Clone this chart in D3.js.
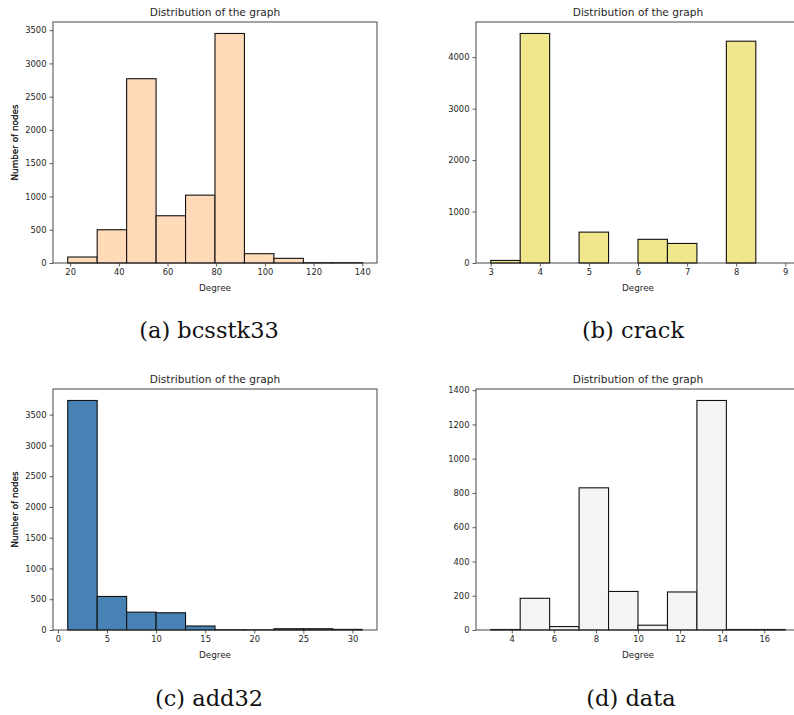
<!DOCTYPE html>
<html><head><meta charset="utf-8">
<script src="https://cdn.jsdelivr.net/npm/d3@7"></script>
<style>
html,body{margin:0;padding:0;background:#fff;}
svg{display:block;}
text{font-family:"DejaVu Sans",sans-serif;fill:#262626;}
.cap{font-family:"DejaVu Serif","Liberation Serif",serif;fill:#111;}
</style></head>
<body>
<svg id="chart" width="794" height="715"></svg>
<script>
// ---- data ----
const titles = ["Distribution of the graph","Distribution of the graph","Distribution of the graph","Distribution of the graph"];
const captions = ["(a) bcsstk33","(b) crack","(c) add32","(d) data"];
const colors = ["#FFDAB9","#F0E68C","#4682B4","#F4F4F4"];

const edgesA = [19,31.1,43.2,55.3,67.4,79.5,91.6,103.7,115.8,127.9,140];
const countsA = [90,500,2770,710,1020,3450,140,70,5,5];
const ticksXA = [20,40,60,80,100,120,140];
const ticksYA = [0,500,1000,1500,2000,2500,3000,3500];

const edgesB = [3,3.6,4.2,4.8,5.4,6.0,6.6,7.2,7.8,8.4,9];
const countsB = [50,4460,0,600,0,460,380,0,4310,0];
const ticksXB = [3,4,5,6,7,8,9];
const ticksYB = [0,1000,2000,3000,4000];

const edgesC = [1,4,7,10,13,16,19,22,25,28,31];
const countsC = [3730,545,290,280,65,5,3,20,20,10];
const ticksXC = [0,5,10,15,20,25,30];
const ticksYC = [0,500,1000,1500,2000,2500,3000,3500];

const edgesD = [3,4.4,5.8,7.2,8.6,10,11.4,12.8,14.2,15.6,17];
const countsD = [3,185,20,830,225,28,222,1340,3,3];
const ticksXD = [4,6,8,10,12,14,16];
const ticksYD = [0,200,400,600,800,1000,1200,1400];

const panels = [
  {edges:edgesA,counts:countsA,tx:ticksXA,ty:ticksYA,x0:53,y0:22},
  {edges:edgesB,counts:countsB,tx:ticksXB,ty:ticksYB,x0:476,y0:22},
  {edges:edgesC,counts:countsC,tx:ticksXC,ty:ticksYC,x0:53,y0:389},
  {edges:edgesD,counts:countsD,tx:ticksXD,ty:ticksYD,x0:476,y0:389}
];
const capPos = [[209,338],[633,338],[209,706],[631,706]];

const svg = d3.select("#chart");
const W = 324, H = 241;

panels.forEach((p,i)=>{
  const g = svg.append("g").attr("transform",`translate(${p.x0},${p.y0})`);
  const lo = p.edges[0], hi = p.edges[p.edges.length-1];
  const pad = (hi-lo)*0.05;
  const x = d3.scaleLinear().domain([lo-pad,hi+pad]).range([0,W]);
  const ymax = d3.max(p.counts)*1.05;
  const y = d3.scaleLinear().domain([0,ymax]).range([H,0]);
  const bins = p.counts.map((c,k)=>({x0:p.edges[k],x1:p.edges[k+1],c}));
  g.selectAll("rect.bar").data(bins).enter().append("rect")
    .attr("class","bar")
    .attr("x",d=>x(d.x0)).attr("width",d=>x(d.x1)-x(d.x0))
    .attr("y",d=>y(d.c)).attr("height",d=>H-y(d.c))
    .attr("fill",colors[i]).attr("stroke","#111").attr("stroke-width",1.1);
  // axes
  const xa = g.append("g").attr("transform",`translate(0,${H})`)
    .call(d3.axisBottom(x).tickValues(p.tx).tickSize(3.5).tickPadding(3).tickFormat(d3.format("d")));
  const ya = g.append("g")
    .call(d3.axisLeft(y).tickValues(p.ty).tickSize(3.5).tickPadding(3).tickFormat(d3.format("d")));
  [xa,ya].forEach(a=>{
    a.select(".domain").remove();
    a.selectAll(".tick line").attr("stroke","#333").attr("stroke-width",0.8);
    a.selectAll(".tick text").style("font-family","DejaVu Sans").style("font-size","8.4px").attr("fill","#262626");
  });
  // frame
  g.append("rect").attr("x",0).attr("y",0).attr("width",W).attr("height",H)
    .attr("fill","none").attr("stroke","#333").attr("stroke-width",0.9);
  g.append("text").attr("x",W/2).attr("y",-6.5).attr("text-anchor","middle")
    .style("font-size","10.6px").text(titles[i]);
  g.append("text").attr("x",W/2).attr("y",H+27.5).attr("text-anchor","middle")
    .style("font-size","8.8px").text("Degree");
  g.append("text").attr("transform",`translate(${-p.x0+18},${H/2}) rotate(-90)`)
    .attr("text-anchor","middle").style("font-size","8.8px").text("Number of nodes");
});

// captions
svg.selectAll("text.cap").data(captions).enter().append("text")
  .attr("class","cap").attr("x",(d,i)=>capPos[i][0]).attr("y",(d,i)=>capPos[i][1])
  .attr("text-anchor","middle").style("font-size","22.5px").text(d=>d);
</script>
</body></html>
